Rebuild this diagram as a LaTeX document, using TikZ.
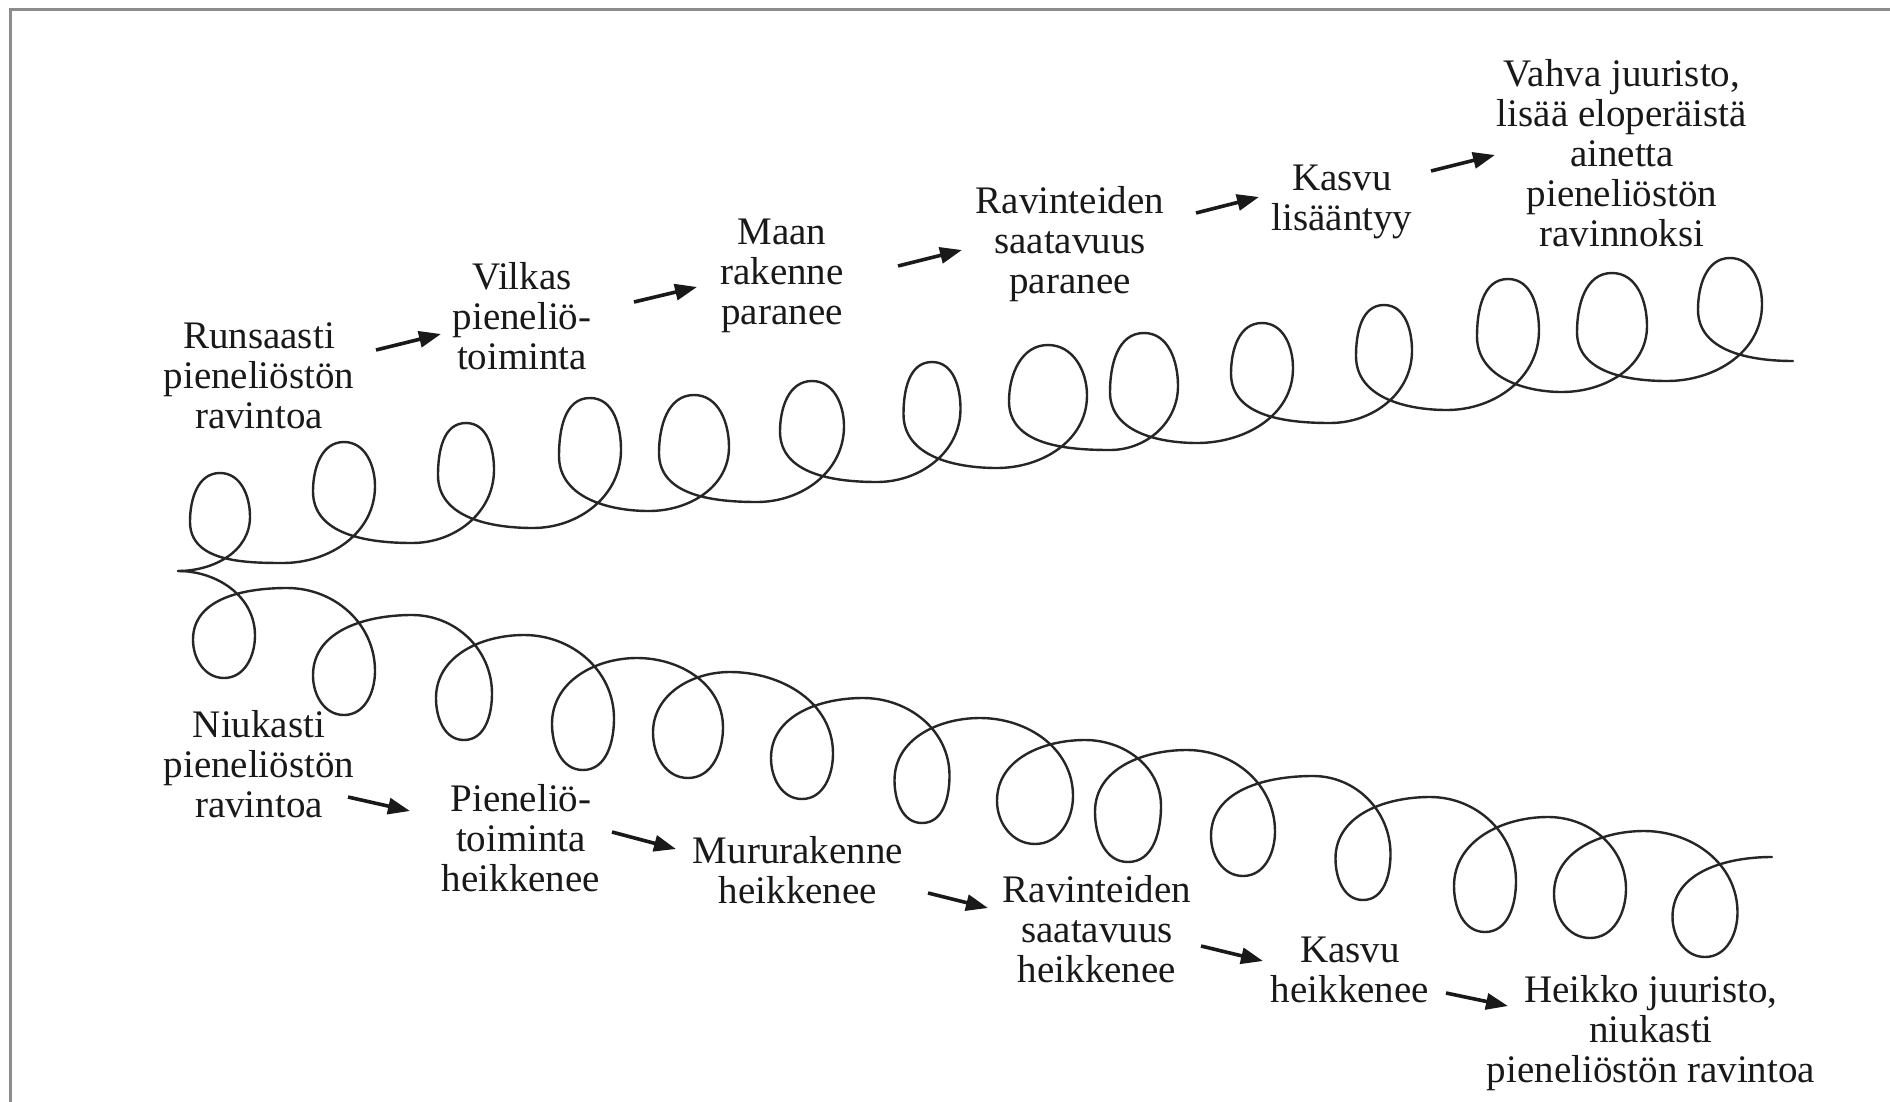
\documentclass[tikz,border=0pt]{standalone}
\usepackage{fontspec}
\setmainfont{Liberation Serif}
\usetikzlibrary{arrows.meta}
\begin{document}
\begin{tikzpicture}[x=0.5pt,y=0.5pt,
  lbl/.style={align=center, font=\fontsize{19.5}{20}\selectfont, text=black!90, inner sep=0pt},
  coil/.style={line width=1.2pt, draw=black!85, line join=round, line cap=round},
  arr/.style={line width=1.8pt, draw=black!90, -{Triangle[length=11pt,width=8pt]}}]
\useasboundingbox (0,0) rectangle (1890,-1102);
\fill[white] (0,0) rectangle (1890,-1102);
\draw[black!45, line width=1.5pt] (10,-1102) -- (10,-10) -- (1890,-10);

% upper coil
\draw[coil] (178,-571)
 \foreach \cx/\w/\t/\c/\ax/\ay in {220/60/473/557/283/563, 344/62/442/527/412/543,
   466/56/423/513/533/528, 590/62/398/498/649/511, 694/70/395/495/757/502,
   812/64/381/468/877/482, 932/57/362/452/997/468, 1048/78/345/442/1110/450,
   1144/68/333/435/1197/443, 1262/62/323/410/1330/423, 1384/56/305/393/1447/410,
   1508/62/279/378/1562/392, 1612/70/273/375/1667/381, 1730/64/258/347/1793/361}
 { to[out=0,in=-90] ({\cx+\w/2},{-(\t+0.52*(\c-\t))})
   to[out=90,in=0] (\cx,-\t)
   to[out=180,in=90] ({\cx-\w/2},{-(\t+0.58*(\c-\t))})
   to[out=-90,in=180] (\ax,-\ay) };

% lower coil
\draw[coil] (178,-571)
 \foreach \cx/\w/\b/\c/\ax/\ay in {224/62/678/593/287/588, 344/62/715/627/412/615,
   464/56/740/647/524/635, 583/62/770/667/637/658, 688/70/778/677/730/672,
   802/62/799/708/863/698, 922/55/823/728/980/718, 1035/76/844/748/1085/740,
   1128/66/862/750/1187/750, 1243/64/876/787/1313/776, 1363/55/900/808/1430/797,
   1485/62/932/830/1548/817, 1590/72/938/840/1644/831, 1705/65/957/868/1772/857}
 { to[out=0,in=90] ({\cx+\w/2},{-(\c+0.5*(\b-\c))})
   to[out=-90,in=0] (\cx,-\b)
   to[out=180,in=-90] ({\cx-\w/2},{-(\c+0.55*(\b-\c))})
   to[out=90,in=180] (\ax,-\ay) };

% upper texts
\node[lbl] (u1) at (259,-376) {Runsaasti\\pieneliöstön\\ravintoa};
\node[lbl] (u2) at (522,-316) {Vilkas\\pieneliö-\\toiminta};
\node[lbl] (u3) at (782,-276) {Maan\\rakenne\\paranee};
\node[lbl] (u4) at (1070,-244) {Ravinteiden\\saatavuus\\paranee};
\node[lbl] (u5) at (1342,-202) {Kasvu\\lisääntyy};
\node[lbl] (u6) at (1622,-153) {Vahva juuristo,\\lisää eloperäistä\\ainetta\\pieneliöstön\\ravinnoksi};

% lower texts
\node[lbl] (d1) at (259,-764) {Niukasti\\pieneliöstön\\ravintoa};
\node[lbl] (d2) at (521,-838) {Pieneliö-\\toiminta\\heikkenee};
\node[lbl] (d3) at (798,-870) {Mururakenne\\heikkenee};
\node[lbl] (d4) at (1097,-929) {Ravinteiden\\saatavuus\\heikkenee};
\node[lbl] (d5) at (1350,-970) {Kasvu\\heikkenee};
\node[lbl] (d6) at (1651,-1033) {Heikko juuristo,\\niukasti\\pieneliöstön ravintoa};

% arrow ends
\coordinate (a1s) at (376,-350);  \coordinate (a1e) at (441,-334);
\coordinate (a2s) at (634,-302);  \coordinate (a2e) at (697,-287);
\coordinate (a3s) at (898,-266);  \coordinate (a3e) at (962,-250);
\coordinate (a4s) at (1196,-213); \coordinate (a4e) at (1259,-197);
\coordinate (a5s) at (1431,-171); \coordinate (a5e) at (1495,-155);
\coordinate (b1s) at (348,-797);  \coordinate (b1e) at (410,-811);
\coordinate (b2s) at (612,-832);  \coordinate (b2e) at (676,-849);
\coordinate (b3s) at (928,-893);  \coordinate (b3e) at (988,-908);
\coordinate (b4s) at (1201,-946); \coordinate (b4e) at (1263,-961);
\coordinate (b5s) at (1446,-993); \coordinate (b5e) at (1508,-1006);

\foreach \p in {a1,a2,a3,a4,a5,b1,b2,b3,b4,b5}
  \draw[arr] (\p s) -- (\p e);
\end{tikzpicture}
\end{document}
